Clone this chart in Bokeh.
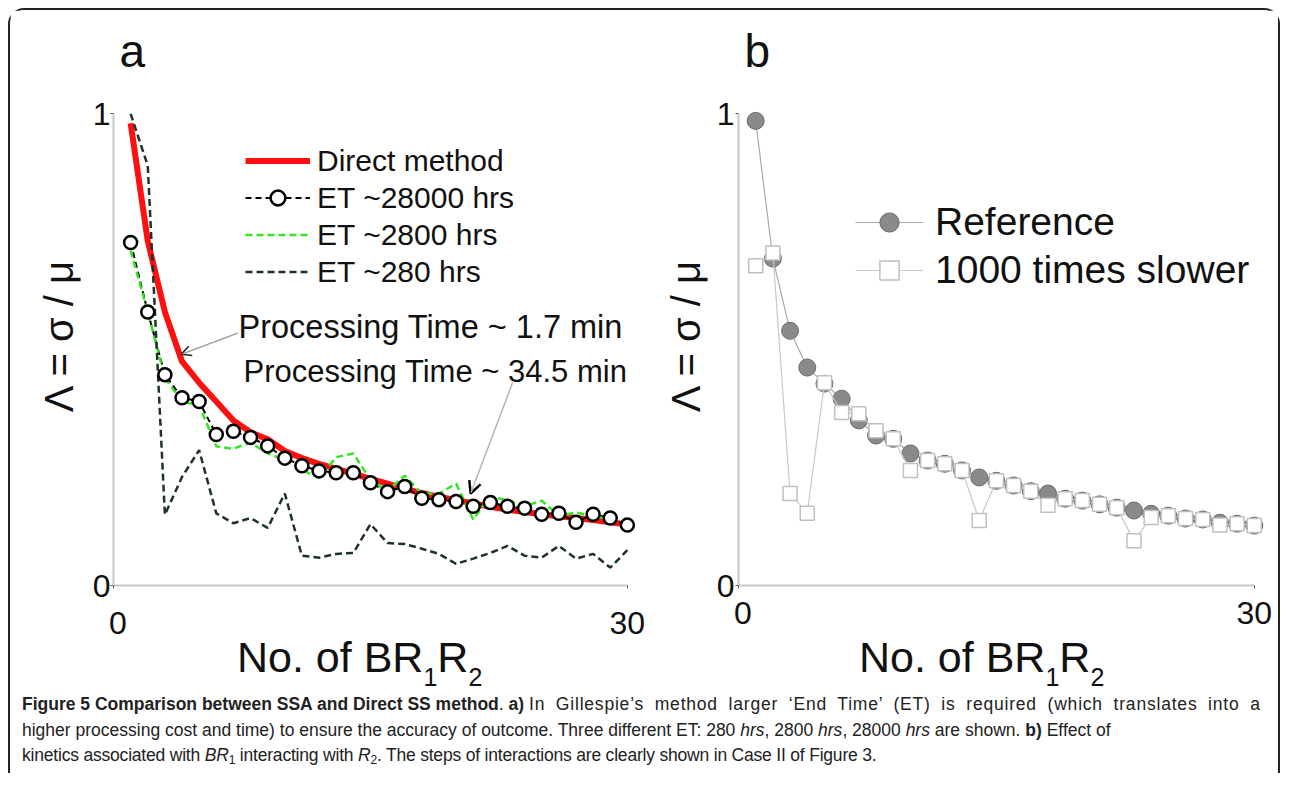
from bokeh.plotting import figure
from bokeh.models import Range1d, FixedTicker, Legend, LegendItem, Label, Arrow, OpenHead, Div
from bokeh.layouts import row, column
from bokeh.embed import file_html
from bokeh.resources import INLINE

# ---------------- data ----------------
n_br = [1, 2, 3, 4, 5, 6, 7, 8, 9, 10, 11, 12, 13, 14, 15,
        16, 17, 18, 19, 20, 21, 22, 23, 24, 25, 26, 27, 28, 29, 30]

# panel a
direct_method = [0.98, 0.73, 0.58, 0.475, 0.43, 0.39, 0.35, 0.325, 0.31, 0.285,
                 0.27, 0.258, 0.247, 0.237, 0.226, 0.216, 0.205, 0.196, 0.188, 0.181,
                 0.174, 0.167, 0.161, 0.156, 0.151, 0.147, 0.143, 0.139, 0.134, 0.129]
et_28000 = [0.727, 0.58, 0.447, 0.398, 0.39, 0.32, 0.327, 0.314, 0.296, 0.27,
            0.254, 0.243, 0.239, 0.239, 0.218, 0.199, 0.21, 0.185, 0.182, 0.178,
            0.168, 0.176, 0.168, 0.164, 0.151, 0.153, 0.134, 0.151, 0.143, 0.128]
et_2800 = [0.71, 0.58, 0.44, 0.39, 0.382, 0.295, 0.29, 0.303, 0.28, 0.266,
           0.245, 0.228, 0.272, 0.28, 0.224, 0.2, 0.233, 0.195, 0.195, 0.216,
           0.14, 0.19, 0.18, 0.168, 0.18, 0.147, 0.155, 0.147, 0.14, 0.132]
et_280 = [1.0, 0.89, 0.15, 0.23, 0.287, 0.153, 0.132, 0.143, 0.122, 0.195,
          0.063, 0.059, 0.067, 0.069, 0.13, 0.09, 0.088, 0.078, 0.067, 0.046,
          0.057, 0.069, 0.084, 0.063, 0.059, 0.084, 0.057, 0.067, 0.038, 0.075]

# panel b
reference = [0.985, 0.693, 0.54, 0.462, 0.428, 0.396, 0.35, 0.318, 0.311, 0.28,
             0.265, 0.258, 0.244, 0.229, 0.222, 0.212, 0.2, 0.195, 0.184, 0.18,
             0.172, 0.165, 0.159, 0.152, 0.148, 0.142, 0.14, 0.133, 0.131, 0.127]
slower_1000 = [0.678, 0.705, 0.195, 0.153, 0.43, 0.367, 0.364, 0.328, 0.311, 0.244,
               0.265, 0.258, 0.244, 0.138, 0.222, 0.212, 0.2, 0.17, 0.184, 0.18,
               0.172, 0.165, 0.095, 0.144, 0.148, 0.142, 0.14, 0.128, 0.131, 0.127]

x_ticks = [0, 30]
y_ticks = [0, 1]

FONT = "Liberation Sans"
INK = "#111111"


def make_panel(letter, width, height, left, right, top, bottom,
               label_standoff, axis_label_standoff, x_standoff):
    p = figure(width=width, height=height, title=letter,
               x_range=Range1d(0, 31), y_range=Range1d(0, 1.06),
               output_backend="svg", toolbar_location=None,
               min_border_left=left, min_border_right=right,
               min_border_top=top, min_border_bottom=bottom)
    p.title.text_font = FONT
    p.title.text_font_size = "46px"
    p.title.text_font_style = "normal"
    p.title.text_color = INK
    p.title.align = "left"
    p.title.offset = 6
    p.title.standoff = 17
    p.grid.visible = False
    p.outline_line_color = None
    p.background_fill_color = "white"
    p.border_fill_color = "white"
    p.xaxis.ticker = FixedTicker(ticks=x_ticks)
    p.yaxis.ticker = FixedTicker(ticks=y_ticks)
    p.xaxis.major_label_overrides = {0: "\u00a00"}
    p.xaxis.bounds = (0, 30)
    p.yaxis.bounds = (0, 1)
    for ax in (p.xaxis[0], p.yaxis[0]):
        ax.axis_line_color = "#c8c8c8"
        ax.axis_line_width = 2
        ax.major_tick_in = 0
        ax.major_tick_out = 3
        ax.major_tick_line_color = "#555555"
        ax.minor_tick_line_color = None
        ax.major_label_text_font = FONT
        ax.major_label_text_font_size = "32px"
        ax.major_label_text_color = INK
    p.xaxis.major_label_standoff = x_standoff
    p.yaxis.major_label_standoff = label_standoff
    p.yaxis.axis_label = "Λ = σ / μ"
    p.yaxis.axis_label_text_font = FONT
    p.yaxis.axis_label_text_font_size = "40px"
    p.yaxis.axis_label_text_font_style = "normal"
    p.yaxis.axis_label_text_color = INK
    p.yaxis.axis_label_standoff = axis_label_standoff
    return p


# ---------------- panel a ----------------
pa = make_panel("a", 636, 635, 103, 2, 74, 55, 0, 9, 16)

r_direct = pa.line(n_br, direct_method, line_color="#ff1010", line_width=6)
r_28_line = pa.line(n_br, et_28000, line_color="black", line_width=2, line_dash="6 4")
r_2800 = pa.line(n_br, et_2800, line_color="#33e61f", line_width=2.5, line_dash="7 4")
r_280 = pa.line(n_br, et_280, line_color="#1e3328", line_width=2.5, line_dash="7 4")
r_28_pts = pa.scatter(n_br, et_28000, marker="circle", size=13, fill_color="white",
                      line_color="black", line_width=2.5)

leg_a = Legend(items=[
    LegendItem(label="Direct method", renderers=[r_direct]),
    LegendItem(label="ET ~28000 hrs", renderers=[r_28_line, r_28_pts]),
    LegendItem(label="ET ~2800 hrs", renderers=[r_2800]),
    LegendItem(label="ET ~280 hrs", renderers=[r_280]),
], location=(132, 295), orientation="vertical")
leg_a.border_line_color = None
leg_a.background_fill_alpha = 0
leg_a.padding = 0
leg_a.margin = 0
leg_a.spacing = 0
leg_a.glyph_width = 65
leg_a.glyph_height = 37
leg_a.label_height = 37
leg_a.label_standoff = 7
leg_a.label_text_font = FONT
leg_a.label_text_font_size = "30px"
leg_a.label_text_color = INK
pa.add_layout(leg_a)

pa.add_layout(Label(x=7.3, y=0.547, text="Processing Time ~ 1.7 min", text_font=FONT,
                    text_font_size="32.5px", text_color=INK, text_baseline="alphabetic"))
pa.add_layout(Label(x=7.59, y=0.453, text="Processing Time ~ 34.5 min", text_font=FONT,
                    text_font_size="31px", text_color=INK, text_baseline="alphabetic"))
pa.add_layout(Arrow(x_start=7.25, y_start=0.535, x_end=3.95, y_end=0.49,
                    line_color="#9a9a9a", line_width=1.5,
                    end=OpenHead(size=10, line_color="#222222", line_width=1.5)))
pa.add_layout(Arrow(x_start=23.3, y_start=0.43, x_end=20.85, y_end=0.195,
                    line_color="#b5b5b5", line_width=1.5,
                    end=OpenHead(size=12, line_color="black", line_width=2.5)))

# ---------------- panel b ----------------
pb = make_panel("b", 632, 635, 92, 7, 75, 60, 1, 6, 6)

r_ref_line = pb.line(n_br, reference, line_color="#aaaaaa", line_width=1.2)
r_ref_pts = pb.scatter(n_br, reference, marker="circle", size=17, fill_color="#8a8a8a",
                       line_color="#6a6a6a", line_width=1)
r_slow_line = pb.line(n_br, slower_1000, line_color="#c8c8c8", line_width=1.2)
r_slow_pts = pb.scatter(n_br, slower_1000, marker="square", size=14, fill_color="white",
                        line_color="#c0c0c0", line_width=1.5)

leg_b = Legend(items=[
    LegendItem(label="Reference", renderers=[r_ref_line, r_ref_pts]),
    LegendItem(label="1000 times slower", renderers=[r_slow_line, r_slow_pts]),
], location=(117, 291), orientation="vertical")
leg_b.border_line_color = None
leg_b.background_fill_alpha = 0
leg_b.padding = 0
leg_b.margin = 0
leg_b.spacing = 0
leg_b.glyph_width = 68
leg_b.glyph_height = 48
leg_b.label_height = 48
leg_b.label_standoff = 12
leg_b.label_text_font = FONT
leg_b.label_text_font_size = "39px"
leg_b.label_text_color = INK
pb.add_layout(leg_b)


# ---------------- x-axis titles (with subscripts) ----------------
def xlabel_div(width, pad_left):
    sub = "font-size:25px;line-height:0;position:relative;top:14px"
    html = ("<div style=\"font-family:'Liberation Sans',sans-serif;font-size:43px;"
            "line-height:24px;color:#111;white-space:nowrap;padding-left:%dpx;\">"
            "No. of BR<span style='%s'>1</span>R<span style='%s'>2</span></div>"
            % (pad_left, sub, sub))
    return Div(text=html, width=width, height=46, margin=0)


xl_a = xlabel_div(636, 227)
xl_b = xlabel_div(632, 213)

# ---------------- caption ----------------
sub_css = "font-size:12px;vertical-align:-3px;line-height:0"
caption_html = (
    "<div style=\"font-family:'Liberation Sans',sans-serif;font-size:17.5px;line-height:25.5px;"
    "color:#222;white-space:nowrap;padding-left:12px;padding-top:1px;\">"
    "<b>Figure 5 Comparison between SSA and Direct SS method</b>. <b>a)</b> "
    "<span style='letter-spacing:0.8px;word-spacing:5px'>In Gillespie’s method "
    "larger ‘End Time’ (ET) is required (which translates into a</span><br>"
    "higher processing cost and time) to ensure the accuracy of outcome. Three different ET: "
    "280 <i>hrs</i>, 2800 <i>hrs</i>, 28000 <i>hrs</i> are shown. <b>b)</b> Effect of<br>"
    "<span style='letter-spacing:-0.2px'>kinetics associated with <i>BR</i>"
    "<span style='" + sub_css + "'>1</span> "
    "interacting with <i>R</i><span style='" + sub_css + "'>2</span>. "
    "The steps of interactions are clearly shown in Case II of Figure 3.</span>"
    "</div>"
)
caption = Div(text=caption_html, width=1268, height=82, margin=0)

layout = column(row(pa, pb), row(xl_a, xl_b), caption,
                margin=(8, 0, 0, 8),
                styles={"border": "2px solid #222", "border-bottom": "none",
                        "border-radius": "16px 16px 0 0", "background": "white"})

open("out.html", "w").write(file_html(layout, INLINE))
